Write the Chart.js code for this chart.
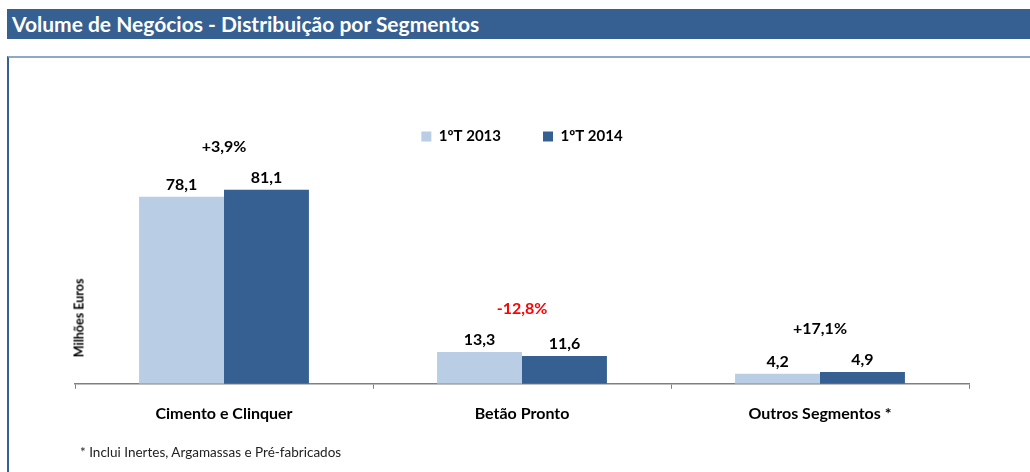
<!DOCTYPE html>
<html>
<head>
<meta charset="utf-8">
<script src="https://cdn.jsdelivr.net/npm/chart.js@4"></script>
<style>
  body { margin: 0; background: #fff; font-family: Lato, "Open Sans", sans-serif; }
  #titleBar {
    position: absolute; left: 7px; top: 9px; width: 1023px; height: 30px;
    background: #376092; color: #fff; font-weight: bold; font-size: 21px;
    line-height: 30px; padding-left: 5px; box-sizing: border-box;
  }
  #box {
    position: absolute; left: 7px; top: 56px; width: 1023px; height: 416px;
    border-top: 2px solid #8EA9C8; border-left: 2px solid #376092; box-sizing: border-box;
  }
  #chartWrap { position: absolute; left: 9px; top: 58px; width: 1021px; height: 414px; }
  #yTitle {
    position: absolute; left: 79px; top: 318px; transform: translate(-50%, -50%) rotate(-90deg);
    font-size: 12.5px; font-weight: bold; color: #000; white-space: nowrap;
  }
  #note { position: absolute; left: 80px; top: 444px; font-size: 13.5px; color: #222; }
</style>
</head>
<body>
<div id="titleBar">Volume de Negócios - Distribuição por Segmentos</div>
<div id="box"></div>
<div id="chartWrap"><canvas id="chart"></canvas></div>
<div id="yTitle">Milhões Euros</div>
<div id="note">* Inclui Inertes, Argamassas e Pré-fabricados</div>
<script>
let categories = ["Cimento e Clinquer", "Betão Pronto", "Outros Segmentos *"];
let values2013 = [78.1, 13.3, 4.2];
let values2014 = [81.1, 11.6, 4.9];
let changeLabels = ["+3,9%", "-12,8%", "+17,1%"];
let seriesNames = ["1ºT 2013", "1ºT 2014"];

// value labels above bars + change % above each group
let labelPlugin = {
    id: "labels",
    afterDatasetsDraw(chart) {
        let ctx = chart.ctx;
        ctx.save();
        ctx.font = "bold 16px Lato";
        ctx.textAlign = "center";
        ctx.textBaseline = "bottom";
        ctx.fillStyle = "#000";
        let tops = [];
        chart.data.datasets.forEach((ds, d) => {
            chart.getDatasetMeta(d).data.forEach((bar, i) => {
                ctx.fillText(ds.data[i].toFixed(1).replace(".", ","), bar.x, bar.y - 4);
                tops[i] = tops[i] === undefined ? bar.y : Math.min(tops[i], bar.y);
            });
        });
        ctx.textBaseline = "middle";
        changeLabels.forEach((txt, i) => {
            ctx.fillStyle = txt.startsWith("-") ? "#FF0000" : "#000";
            ctx.fillText(txt, chart.scales.x.getPixelForValue(i), tops[i] - 43);
        });
        ctx.restore();
    }
};

let chart = new Chart(document.getElementById("chart"), {
    type: 'bar',
    data: {
        labels: categories,
        datasets: [{
            label: seriesNames[0],
            data: values2013,
            backgroundColor: "#B9CDE5",
            borderWidth: 0,
            barPercentage: 1,
            categoryPercentage: 0.57
        }, {
            label: seriesNames[1],
            data: values2014,
            backgroundColor: "#376092",
            borderWidth: 0,
            barPercentage: 1,
            categoryPercentage: 0.57
        }]
    },
    options: {
        animation: false,
        responsive: true,
        maintainAspectRatio: false,
        layout: { padding: { left: 66, right: 61, top: 29, bottom: 34 } },
        plugins: {
            tooltip: { enabled: false },
            legend: {
                position: 'top',
                labels: {
                    boxWidth: 10,
                    boxHeight: 10,
                    padding: 42,
                    color: "#000",
                    font: { family: "Lato", size: 15, weight: "bold" }
                }
            }
        },
        scales: {
            x: {
                grid: {
                    display: true,
                    drawOnChartArea: false,
                    drawTicks: true,
                    tickLength: 5,
                    color: "#808080"
                },
                border: { display: true, color: "#808080", width: 1.5 },
                ticks: {
                    padding: 15,
                    color: "#000",
                    font: { family: "Lato", size: 16, weight: "bold" }
                }
            },
            y: {
                display: false,
                min: 0,
                max: 96
            }
        }
    },
    plugins: [labelPlugin]
});
</script>
</body>
</html>
